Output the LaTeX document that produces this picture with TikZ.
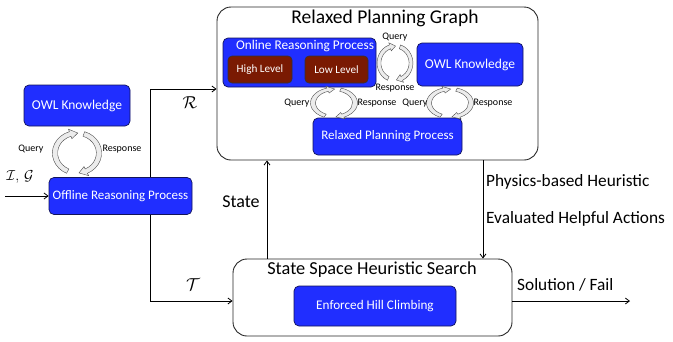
\documentclass[tikz,border=0pt]{standalone}
\usepackage{fontspec}
\setmainfont{Carlito}
\usetikzlibrary{arrows.meta}
\definecolor{owlblue}{RGB}{32,46,255}
\definecolor{boxedge}{RGB}{18,20,90}
\definecolor{levelred}{RGB}{122,26,2}
\tikzset{
  bluebox/.style={draw=boxedge,fill=owlblue,rounded corners=5pt,line width=0.7pt,text=white,inner sep=0pt},
  redbox/.style={draw=black!80,fill=levelred,rounded corners=4pt,line width=0.6pt,text=white,inner sep=0pt,font=\fontsize{11.2}{13}\selectfont},
  bigbox/.style={draw=black!85,rounded corners=14pt,line width=0.9pt,inner sep=0pt},
  small/.style={font=\fontsize{10}{11}\selectfont,inner sep=0pt},
  flow/.style={line width=0.8pt,-{Straight Barb[length=4pt,width=6pt]}},
  cycpart/.style={draw=black!70,fill=gray!15,line width=0.4pt},
  cycarrow/.pic={
    \begin{scope}[yscale=-1]
      \filldraw[cycpart] (245:1.12) arc[start angle=245,end angle=108,radius=1.12]
        -- (108:1.25) -- (88:1) -- (108:0.75) -- (108:0.88)
        arc[start angle=108,end angle=245,radius=0.88] -- cycle;
      \filldraw[cycpart] (72:1.12) arc[start angle=72,end angle=-65,radius=1.12]
        -- (-65:1.25) -- (-85:1) -- (-65:0.75) -- (-65:0.88)
        arc[start angle=-65,end angle=72,radius=0.88] -- cycle;
    \end{scope}
  }
}
\begin{document}
\begin{tikzpicture}[x=1pt,y=-1pt]
  \useasboundingbox (0,0) rectangle (673,341);
  \node [bigbox,minimum width=321,minimum height=153] (rpg) at (377.5,83.5) {};
  \node [font=\fontsize{19.5}{22}\selectfont] (rpgtitle) at (385,18) {Relaxed Planning Graph};
  \node [bigbox,minimum width=279,minimum height=77] (sshs) at (372.5,297.5) {};
  \node [font=\fontsize{18.3}{20}\selectfont] (sshstitle) at (372,270) {State Space Heuristic Search};

  \node [bluebox,minimum width=106,minimum height=41,font=\fontsize{13.5}{15}\selectfont] (owlL) at (77,105.5) {OWL Knowledge};
  \node [bluebox,minimum width=143,minimum height=37,font=\fontsize{13}{15}\selectfont] (offline) at (120.5,196) {Offline Reasoning Process};
  \node [bluebox,minimum width=153,minimum height=49] (online) at (299.5,62.5) {};
  \node [text=white,font=\fontsize{13.3}{15}\selectfont] (onlinetitle) at (305,46) {Online Reasoning Process};
  \node [redbox,minimum width=64,minimum height=27] (high) at (260,69.5) {High Level};
  \node [redbox,minimum width=63,minimum height=27] (low) at (336.5,69.5) {Low Level};
  \node [bluebox,minimum width=106,minimum height=43,font=\fontsize{13.5}{15}\selectfont] (owlI) at (470,64.5) {OWL Knowledge};
  \node [bluebox,minimum width=149,minimum height=37,font=\fontsize{13}{15}\selectfont] (rpp) at (387.5,136.5) {Relaxed Planning Process};
  \node [bluebox,minimum width=162,minimum height=40,font=\fontsize{13.2}{15}\selectfont] (ehc) at (375,306) {Enforced Hill Climbing};

  \pic [xscale=22,yscale=20] at (77,153) {cycarrow};
  \node [small] (q1) at (31,149) {Query};
  \node [small] (r1) at (122,149) {Response};
  \pic [xscale=16,yscale=17] at (395,63) {cycarrow};
  \node [small] (q2) at (395,37) {Query};
  \node [small] (r2) at (395,88) {Response};
  \pic [xscale=21,yscale=14] at (334,103) {cycarrow};
  \node [small] (q3) at (297,103) {Query};
  \node [small] (r3) at (377,103) {Response};
  \pic [xscale=21,yscale=14] at (450,103) {cycarrow};
  \node [small] (q4) at (415,103) {Query};
  \node [small] (r4) at (493,103) {Response};

  \coordinate (in) at (5,196);
  \coordinate (rjoin) at (150,89);
  \coordinate (tjoin) at (150,301);
  \coordinate (sx) at (267,0);
  \coordinate (hx) at (483,0);
  \coordinate (out) at (630,301);
  \draw [flow] (in) -- (offline.west);
  \draw [flow] (offline.north -| rjoin) |- (rpg.west |- rjoin);
  \draw [flow] (offline.south -| tjoin) |- (sshs.west |- tjoin);
  \draw [flow] (sshs.north -| sx) -- (rpg.south -| sx);
  \draw [flow] (rpg.south -| hx) -- (sshs.north -| hx);
  \draw [flow] (sshs.east |- out) -- (out);

  \node [font=\fontsize{15}{17}\selectfont] (ig) at (20,177) {$\mathcal{I},\,\mathcal{G}$};
  \node [font=\fontsize{16}{18}\selectfont] (rlab) at (190,103) {$\mathcal{R}$};
  \node [font=\fontsize{16}{18}\selectfont] (tlab) at (193,285) {$\mathcal{T}$};
  \node [font=\fontsize{18}{20}\selectfont] (state) at (241,202) {State};
  \node [anchor=west,inner sep=1pt,font=\fontsize{17.3}{20}\selectfont] (phys) at (485,182) {Physics-based Heuristic};
  \node [anchor=west,inner sep=1pt,font=\fontsize{17.3}{20}\selectfont] (evald) at (485,219) {Evaluated Helpful Actions};
  \node [anchor=west,inner sep=1pt,font=\fontsize{17.3}{20}\selectfont] (sol) at (516,285) {Solution / Fail};
\end{tikzpicture}
\end{document}
